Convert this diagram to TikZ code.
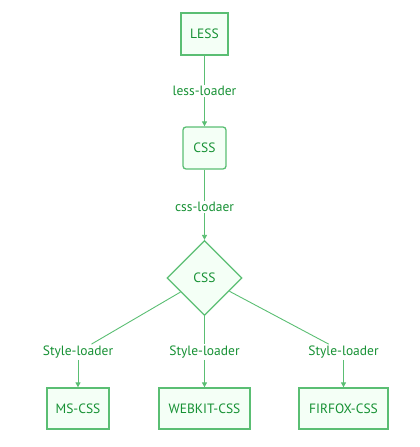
\documentclass[tikz,border=0pt]{standalone}
\usepackage{fontspec}
\setmainfont{PT Sans}
\usetikzlibrary{shapes.geometric}
\usetikzlibrary{arrows.meta}
\definecolor{mgreen}{RGB}{90,190,115}
\definecolor{mtext}{RGB}{22,145,52}
\definecolor{mfill}{RGB}{244,255,246}

\tikzset{
  box/.style={draw=mgreen, line width=1.3pt, fill=mfill, text=mtext, inner sep=0pt, font=\fontsize{13.5}{15}\selectfont},
  lbl/.style={fill=white, text=mtext, inner sep=1.5pt, font=\fontsize{13.5}{15}\selectfont},
  edge/.style={draw=mgreen, line width=0.9pt},
  arr/.style={-{Triangle[length=5pt,width=5pt]}}
}

\begin{document}
\begin{tikzpicture}[x=1pt, y=-1pt]

\useasboundingbox (0,0) rectangle (420,447);

% top chain
\node[box, minimum width=47pt, minimum height=42pt] (less) at (204.5,34) {LESS};
\node[box, rounded corners=3pt, minimum width=43pt, minimum height=42pt] (css) at (204.5,148) {CSS};
\node[box, diamond, minimum width=75pt, minimum height=75pt] (dia) at (204.5,278) {CSS};

\draw[edge,arr] (less) -- (css) node[lbl, midway] (l1) {less-loader};
\draw[edge,arr] (css) -- (dia) node[lbl, pos=0.53] (l2) {css-lodaer};

% bottom row
\node[box, minimum width=62pt, minimum height=41pt] (ms) at (78,408.5) {MS-CSS};
\node[box, minimum width=91pt, minimum height=41pt] (webkit) at (204.5,408.5) {WEBKIT-CSS};
\node[box, minimum width=89pt, minimum height=41pt] (firfox) at (343.5,408.5) {FIRFOX-CSS};

\node[lbl] (s1) at (78,352) {Style-loader};
\node[lbl] (s2) at (204.5,352) {Style-loader};
\node[lbl] (s3) at (343.5,352) {Style-loader};

\draw[edge] (dia) -- (s1);
\draw[edge] (dia) -- (s2);
\draw[edge] (dia) -- (s3);
\draw[edge,arr] (s1) -- (ms);
\draw[edge,arr] (s2) -- (webkit);
\draw[edge,arr] (s3) -- (firfox);

\end{tikzpicture}
\end{document}
